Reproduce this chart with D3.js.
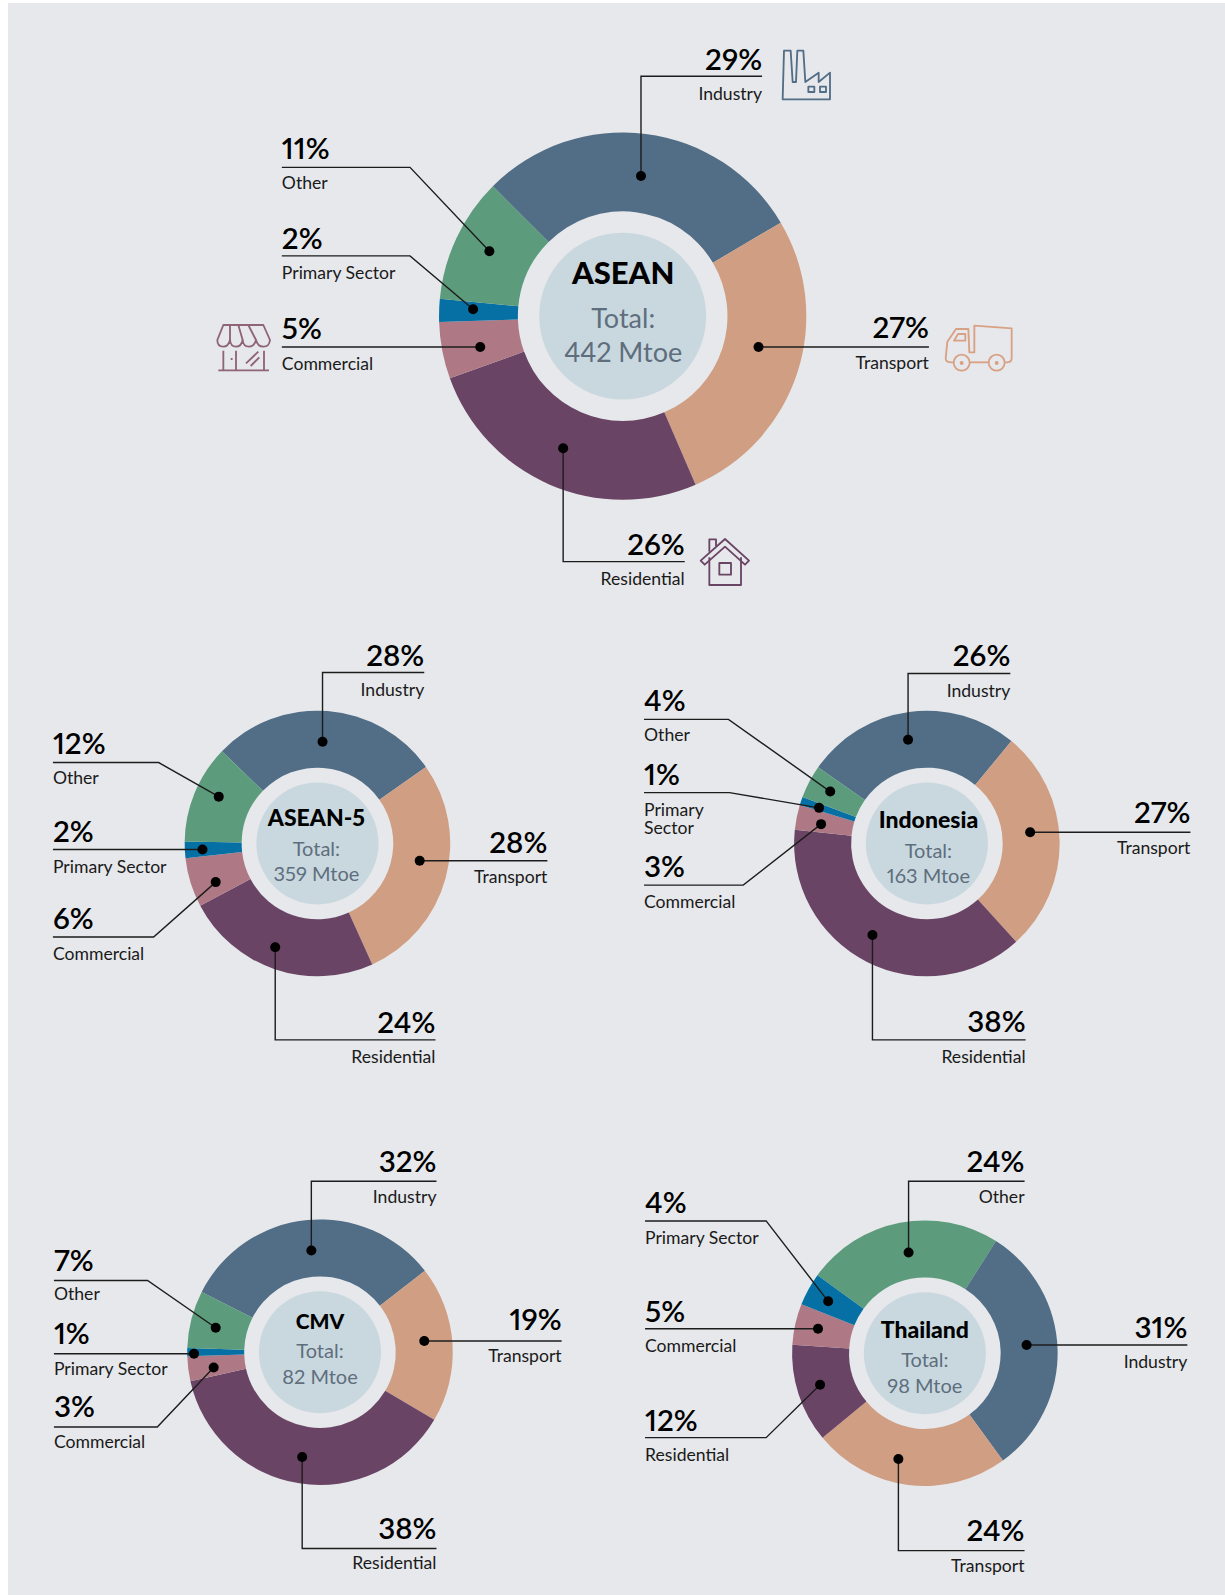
<!DOCTYPE html>
<html><head><meta charset="utf-8">
<script src="https://cdn.jsdelivr.net/npm/d3@7"></script>
<style>
html,body{margin:0;padding:0;background:#fff}
svg{display:block}
text{font-family:Lato,"Open Sans",sans-serif;font-variant-numeric:proportional-nums;font-feature-settings:"pnum" 1,"kern" 1}
</style></head><body>
<div id="chart"></div>
<script>
// ---- data ----
const categories = ["Industry","Transport","Residential","Commercial","Primary Sector","Other"];
const aseanValues     = [29,27,26,5,2,11];
const asean5Values    = [28,28,24,6,2,12];
const indonesiaValues = [26,27,38,3,1,4];
const cmvValues       = [32,19,38,3,1,7];
const thailandOrder   = ["Other","Industry","Transport","Residential","Commercial","Primary Sector"];
const thailandValues  = [24,31,24,12,5,4];
const regionNames  = ["ASEAN","ASEAN-5","Indonesia","CMV","Thailand"];
const regionTotals = ["442 Mtoe","359 Mtoe","163 Mtoe","82 Mtoe","98 Mtoe"];

// ---- styles ----
const colour = d3.scaleOrdinal()
  .domain(categories)
  .range(["#526d86","#d09e82","#6a4465","#ae7985","#0670a5","#5c9b7c"]);
const W = 1225, H = 1595;
const u = d3.scaleLinear().domain([0,1204]).range([0,W]);   // layout grid → page px
const BG = "#e6e8eb", DISC = "#c9d8df", GREY = "#5e6e7d", INK = "#000";

// ---- layout of each donut: geometry + call-outs (anchor x, side, pct baseline, rule y, name baseline, elbow x, dot x, dot y) ----
const layouts = [
 {c:[612,310.7],tx:612.5,r:[180.5,103,82],start:-45,title:[279],total:[322,356],fs:[31,27],
  labels:{
   "Industry":[749,"end",69,75,98,630,630,173],
   "Transport":[913,"end",332,341,362.5,null,745.5,341],
   "Residential":[673,"end",545,552,574.5,553.5,553.5,440.5],
   "Commercial":[277,"start",333,341,363.5,null,472,341],
   "Primary Sector":[277,"start",245,251.5,274,403,465,304],
   "Other":[277,"start",156,164.5,186,403,481,247]}},
 {c:[312,829],tx:311,r:[130.5,74.5,60],start:-46,title:[812],total:[841,866],fs:[23,20],
  labels:{
   "Industry":[417,"end",655,661,684,317,317,729],
   "Transport":[538,"end",838,846,868,null,412.5,846],
   "Residential":[428,"end",1015,1022,1045,270.5,270.5,931],
   "Commercial":[52,"start",913,921,944,151,212,867],
   "Primary Sector":[52,"start",828,835,858,null,199,835],
   "Other":[52,"start",741,749.5,771,156,215,783]}},
 {c:[911,829],tx:912.5,r:[130.5,74.5,60],start:-55,title:[814],total:[843,868],fs:[23,20],
  labels:{
   "Industry":[993,"end",655,662,685,892.5,892.5,727],
   "Transport":[1170,"end",809,818,839.5,null,1012.5,818],
   "Residential":[1008,"end",1014,1022,1045,857.5,857.5,919],
   "Commercial":[633,"start",862,870,892,730.5,807,810],
   "Primary Sector":[633,"start",772,779,802,717,805,794],
   "Other":[633,"start",699,707,728,716,816,778]}},
 {c:[314.5,1329],tx:314.5,r:[130.5,74.5,60],start:-63,title:[1306],total:[1335,1360],fs:[21,20],
  labels:{
   "Industry":[429,"end",1152,1161,1182.5,306,306,1229],
   "Transport":[552,"end",1307,1318,1338.5,null,417,1318],
   "Residential":[429,"end",1513,1522,1542,297,297,1432],
   "Commercial":[53,"start",1393,1402.5,1423,154.6,210,1344],
   "Primary Sector":[53,"start",1321,1330.5,1351.5,null,190.7,1330.5],
   "Other":[53,"start",1249,1258.5,1278,145,212,1305]}},
 {c:[909,1330],tx:909,r:[130.5,74.5,60],start:-54,title:[1315],total:[1344,1369],fs:[23,20],
  labels:{
   "Other":[1007,"end",1152,1161,1182.5,893,893,1231],
   "Industry":[1167,"end",1315,1322,1345,null,1009,1322],
   "Transport":[1007,"end",1515,1524,1545.5,883,883,1434],
   "Residential":[634,"start",1406,1413,1436,753,806,1361],
   "Commercial":[634,"start",1299,1306,1329,null,804,1306],
   "Primary Sector":[634,"start",1192,1200,1223,753,814,1279]}}
];

const series = [
 {cats:categories,vals:aseanValues},
 {cats:categories,vals:asean5Values},
 {cats:categories,vals:indonesiaValues},
 {cats:categories,vals:cmvValues},
 {cats:thailandOrder,vals:thailandValues}
];

const svg = d3.select("#chart").append("svg").attr("width",W).attr("height",H).attr("viewBox",`0 0 ${W} ${H}`);
svg.append("rect").attr("x",8).attr("y",3).attr("width",W-8).attr("height",H-3).attr("fill",BG);

series.forEach((s,i)=>{
  const L = layouts[i];
  const [cx,cy] = [u(L.c[0]),u(L.c[1])];
  const tx = u(L.tx);
  const pie = d3.pie().sort(null).value(d=>d.v)
     .startAngle(L.start*Math.PI/180).endAngle((L.start+360)*Math.PI/180);
  const arc = d3.arc().innerRadius(u(L.r[1])).outerRadius(u(L.r[0]));
  const rows = s.cats.map((c,j)=>({c,v:s.vals[j]}));
  const g = svg.append("g").attr("class","donut");
  g.append("g").attr("transform",`translate(${cx},${cy})`)
   .selectAll("path").data(pie(rows)).join("path")
   .attr("d",arc).attr("fill",d=>colour(d.data.c));
  g.append("circle").attr("cx",cx).attr("cy",cy).attr("r",u(L.r[2])).attr("fill",DISC);
  g.append("text").attr("x",tx).attr("y",u(L.title[0])).attr("text-anchor","middle")
   .attr("font-size",L.fs[0]).attr("font-weight",900).attr("fill",INK).text(regionNames[i]);
  g.append("text").attr("x",tx).attr("y",u(L.total[0])).attr("text-anchor","middle")
   .attr("font-size",L.fs[1]).attr("font-weight",400).attr("fill",GREY).text("Total:");
  g.append("text").attr("x",tx).attr("y",u(L.total[1])).attr("text-anchor","middle")
   .attr("font-size",L.fs[1]).attr("font-weight",400).attr("fill",GREY).text(regionTotals[i]);

  rows.forEach(r=>{
    const [ax,anchor,pctY,ruleY,nameY,elbow,dx,dy] = L.labels[r.c];
    const pts = [[ax,ruleY]];
    if(elbow!==null) pts.push([elbow,ruleY]);
    pts.push([dx,dy]);
    g.append("path").attr("d",d3.line()(pts.map(p=>[u(p[0]),u(p[1])])))
     .attr("fill","none").attr("stroke","#1c1c1c").attr("stroke-width",1.4);
    g.append("circle").attr("cx",u(dx)).attr("cy",u(dy)).attr("r",5).attr("fill","#000");
    g.append("text").attr("x",u(ax)).attr("y",u(pctY)).attr("text-anchor",anchor)
     .attr("font-size",29.5).attr("font-weight",600).attr("fill",INK).text(r.v+"%");
    const nm = (i===2 && r.c==="Primary Sector") ? ["Primary","Sector"] : [r.c];
    nm.forEach((t,k)=>g.append("text").attr("x",u(ax)).attr("y",u(nameY)+k*18.5)
      .attr("text-anchor",anchor).attr("font-size",17.6).attr("font-weight",400).attr("fill","#1a1a1a").text(t));
  });
});

// ---- pictograms (drawn in 3x zoom units around a page origin) ----
function icon(ox,oy,col,paths,fills){
  const g = svg.append("g").attr("transform",`translate(${ox},${oy}) scale(${1/3})`)
    .attr("fill","none").attr("stroke",col).attr("stroke-width",5.5).attr("stroke-linejoin","round");
  paths.forEach(p=>g.append("path").attr("d",p));
  (fills||[]).forEach(c=>g.append("circle").attr("cx",c[0]).attr("cy",c[1]).attr("r",c[2]).attr("fill",col).attr("stroke","none"));
}
icon(770,40,"#526d86",[
 "M38 178L42 32L62 32L68 126L78 126L82 32L100 32L106 126L146 98L146 126L180 98L180 178Z",
 "M115 140h18v16h-18Z","M150 140h18v16h-18Z"]);
icon(200,300,"#8f6474",[
 "M70 75H190L210 120Q208 140 190 140Q173 140 168 120Q163 140 147 140Q130 140 128 120Q124 140 108 140Q92 140 90 120Q85 140 70 140Q52 140 52 120Z",
 "M90 75L90 120M115 75L128 120M145 75L168 120",
 "M70 152V210M108 152V210M192 152V210M55 211H207",
 "M138 190L175 155M152 198L178 172","M95 174V180"]);
icon(930,310,"#d9a184",[
 "M71 157H62Q47 157 47 145L52 95L78 57H115L118 127H133V47L245 55V145Q245 157 232 157H224",
 "M119 157H176","M72 92L84 72H106V92Z"],[[95,159,6],[200,159,6]]);
svg.selectAll(null).data([[95,158],[200,158]]).join("circle")
  .attr("cx",d=>930+d[0]/3).attr("cy",d=>310+d[1]/3).attr("r",8).attr("fill","none").attr("stroke","#d9a184").attr("stroke-width",1.8);
icon(690,520,"#6a4465",[
 "M32 122L105 57L177 122L165 134L105 80L44 134Z",
 "M58 112V195H153V112","M58 95V58H78V78","M88 129h35v35h-35Z"]);
</script>
</body></html>
